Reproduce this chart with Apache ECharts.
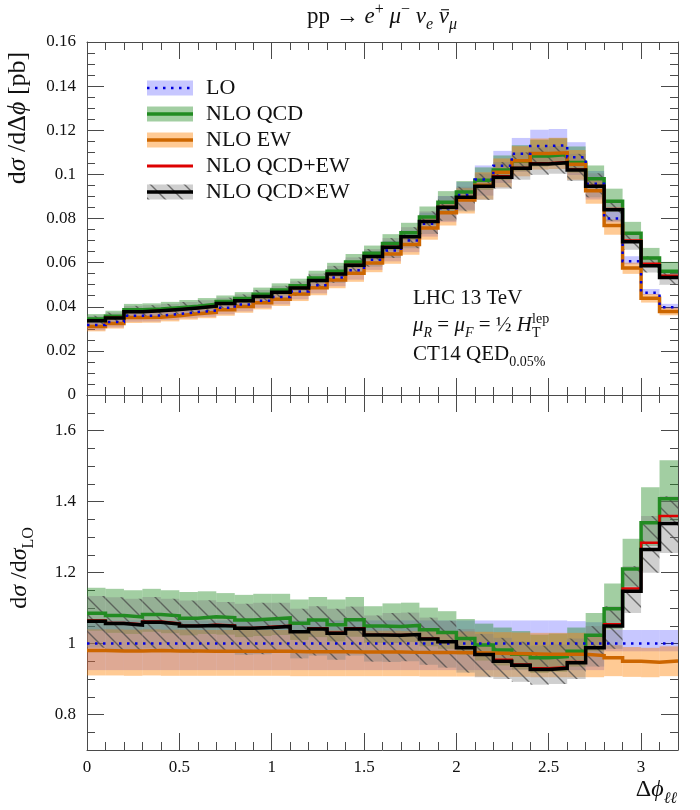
<!DOCTYPE html>
<html><head><meta charset="utf-8">
<script src="https://cdn.jsdelivr.net/npm/echarts@6/dist/echarts.min.js"></script>
<style>html,body{margin:0;padding:0;background:#fff}#c{width:700px;height:810px}</style>
</head><body><div id="c"></div>
<script>
// ---- data ----
const binEdges = [0,0.1,0.2,0.3,0.4,0.5,0.6,0.7,0.8,0.9,1.0,1.1,1.2,1.3,1.4,1.5,1.6,1.7,1.8,1.9,2.0,2.1,2.2,2.3,2.4,2.5,2.6,2.7,2.8,2.9,3.0,3.1,3.2];
// LO cross section dσ/dΔφ [pb]
const loXsec = [0.0317,0.0331,0.0359,0.0360,0.0367,0.0376,0.0383,0.0395,0.0410,0.0427,0.0444,0.0469,0.0498,0.0533,0.0565,0.0613,0.0655,0.0700,0.0776,0.0847,0.0907,0.0977,0.1039,0.1094,0.1129,0.1132,0.1078,0.0958,0.0800,0.0606,0.0463,0.0398];
// ratios to LO
const loRatio     = [1,1,1,1,1,1,1,1,1,1,1,1,1,1,1,1,1,1,1,1,1,1,1,1,1,1,1,1,1,1,1,1];
const loRatioLow  = [0.925,0.925,0.925,0.925,0.925,0.925,0.925,0.925,0.925,0.925,0.925,0.925,0.925,0.925,0.925,0.925,0.925,0.925,0.925,0.925,0.925,0.925,0.925,0.925,0.925,0.925,0.925,0.925,0.978,0.978,0.978,0.978];
const loRatioHigh = [1.065,1.065,1.065,1.065,1.065,1.065,1.065,1.065,1.065,1.065,1.065,1.065,1.065,1.065,1.065,1.065,1.065,1.065,1.065,1.065,1.065,1.065,1.065,1.065,1.065,1.065,1.063,1.060,1.038,1.038,1.038,1.038];
const qcdRatio     = [1.085,1.079,1.075,1.082,1.078,1.071,1.075,1.073,1.066,1.069,1.072,1.057,1.066,1.053,1.067,1.049,1.048,1.051,1.039,1.031,1.014,0.996,0.982,0.970,0.960,0.963,0.978,1.023,1.098,1.210,1.340,1.408];
const qcdRatioLow  = [1.036,1.030,1.027,1.033,1.029,1.023,1.027,1.025,1.018,1.021,1.024,1.010,1.018,1.006,1.019,1.002,1.001,1.004,0.992,0.985,0.969,0.952,0.938,0.927,0.917,0.920,0.935,0.978,1.040,1.160,1.275,1.345];
const qcdRatioHigh = [1.157,1.154,1.150,1.154,1.150,1.145,1.147,1.142,1.137,1.140,1.140,1.124,1.131,1.124,1.131,1.105,1.113,1.115,1.101,1.091,1.069,1.056,1.045,1.035,1.025,1.028,1.045,1.086,1.169,1.295,1.440,1.516];
const ewRatio     = [0.980,0.979,0.979,0.980,0.979,0.979,0.978,0.978,0.978,0.978,0.978,0.977,0.977,0.977,0.976,0.976,0.976,0.975,0.975,0.975,0.974,0.973,0.972,0.971,0.970,0.970,0.970,0.966,0.960,0.950,0.947,0.951];
const ewRatioLow  = [0.910,0.910,0.909,0.910,0.909,0.909,0.909,0.909,0.909,0.909,0.909,0.908,0.908,0.908,0.908,0.908,0.908,0.908,0.907,0.907,0.907,0.907,0.906,0.906,0.905,0.905,0.905,0.905,0.908,0.906,0.905,0.908];
const ewRatioHigh = [1.040,1.040,1.039,1.040,1.039,1.039,1.038,1.038,1.038,1.038,1.038,1.037,1.037,1.037,1.036,1.036,1.036,1.035,1.035,1.035,1.034,1.033,1.032,1.031,1.030,1.030,1.030,1.020,0.995,0.990,0.988,0.992];
const addRatio = [1.065,1.058,1.054,1.062,1.057,1.050,1.053,1.051,1.044,1.047,1.050,1.034,1.043,1.030,1.043,1.025,1.024,1.026,1.014,1.006,0.988,0.969,0.954,0.941,0.930,0.933,0.948,0.989,1.054,1.155,1.284,1.359];
const mulRatio     = [1.063,1.056,1.052,1.060,1.055,1.049,1.051,1.049,1.043,1.045,1.048,1.033,1.041,1.029,1.041,1.024,1.023,1.025,1.013,1.005,0.988,0.969,0.950,0.939,0.927,0.930,0.946,0.988,1.049,1.147,1.265,1.338];
const mulRatioLow  = [0.988,0.981,0.977,0.985,0.980,0.974,0.976,0.974,0.968,0.970,0.973,0.958,0.966,0.954,0.966,0.949,0.948,0.950,0.940,0.932,0.918,0.905,0.900,0.892,0.884,0.886,0.900,0.935,0.985,1.086,1.199,1.255];
const mulRatioHigh = [1.134,1.130,1.126,1.131,1.126,1.121,1.122,1.117,1.112,1.115,1.115,1.098,1.105,1.098,1.104,1.079,1.086,1.087,1.073,1.064,1.041,1.027,1.016,1.005,0.994,0.997,1.014,1.049,1.105,1.218,1.359,1.415];
// tick labels
const xMajorTicks = [0,0.5,1,1.5,2,2.5,3];
const yTopTicks = [0,0.02,0.04,0.06,0.08,0.1,0.12,0.14,0.16];
const yBotTicks = [0.8,1,1.2,1.4,1.6];
const legendNames = ['LO', 'NLO QCD', 'NLO EW', 'NLO QCD+EW', 'NLO QCD×EW'];

// ---- chart ----
const FONT = 'Liberation Serif';
const AXC = '#4a4a4a';
const abs = r => r.map((v,i) => v * loXsec[i]);

function hatchPattern() {
  const s = 17, c = document.createElement('canvas'); c.width = s; c.height = s;
  const g = c.getContext('2d');
  g.fillStyle = 'rgba(128,128,128,0.38)'; g.fillRect(0,0,s,s);
  g.strokeStyle = 'rgba(70,70,70,0.72)'; g.lineWidth = 1.4;
  g.beginPath();
  g.moveTo(-2,-2); g.lineTo(s+2,s+2);
  g.moveTo(-2,s-2); g.lineTo(2,s+2);
  g.moveTo(s-2,-2); g.lineTo(s+2,2);
  g.stroke();
  return {type:'pattern', image:c, repeat:'repeat'};
}
const HATCH = hatchPattern();
const C = {
  loBand:'rgba(0,0,255,0.22)', lo:'#0000dd',
  qcdBand:'rgba(34,139,34,0.42)', qcd:'#228b22',
  ewBand:'rgba(255,128,0,0.42)', ew:'#cc6600',
  add:'#dd0000', mul:'#000000'
};

const lbl = {fontFamily:FONT, fontSize:17, color:'#111'};
function xAx(grid, pos, major, labels) {
  const a = {type:'value', gridIndex:grid, position:pos, min:0, max:3.2,
    axisLine:{show:major, onZero:false, lineStyle:{color:AXC, width:1}},
    splitLine:{show:false}, minorTick:{show:false}};
  if (major) {
    a.interval = 0.5;
    a.axisTick = {show:true, inside:true, length:17, lineStyle:{color:AXC}, customValues:xMajorTicks};
    a.axisLabel = Object.assign({show:labels, margin:9, customValues:xMajorTicks}, lbl);
  } else {
    a.interval = 0.1;
    a.axisTick = {show:true, inside:true, length:8, lineStyle:{color:AXC}};
    a.axisLabel = {show:false};
  }
  return a;
}
function yAx(grid, pos, major, labels, top) {
  const a = {type:'value', gridIndex:grid, position:pos,
    min: top ? 0 : 0.7, max: top ? 0.16 : 1.7,
    axisLine:{show:major, onZero:false, lineStyle:{color:AXC, width:1}},
    splitLine:{show:false}, minorTick:{show:false}};
  const ticks = top ? yTopTicks : yBotTicks;
  if (major) {
    if (top) a.interval = 0.02;
    a.axisTick = {show:true, inside:true, length:17, lineStyle:{color:AXC}, customValues:ticks};
    a.axisLabel = Object.assign({show:labels, margin:11, customValues:ticks}, lbl);
  } else {
    a.interval = top ? 0.005 : 0.05;
    a.axisTick = {show:true, inside:true, length:8, lineStyle:{color:AXC}};
    a.axisLabel = {show:false};
  }
  return a;
}

function band(lo, hi, fill, xi, yi, z) {
  return {type:'custom', xAxisIndex:xi, yAxisIndex:yi, z, silent:true, clip:true,
    data: lo.map((l,i) => [binEdges[i], binEdges[i+1], l, hi[i]]),
    encode:{x:[0,1], y:[2,3]},
    renderItem(params, api) {
      const p0 = api.coord([api.value(0), api.value(3)]);
      const p1 = api.coord([api.value(1), api.value(2)]);
      return {type:'rect', shape:{x:p0[0], y:p0[1], width:p1[0]-p0[0], height:p1[1]-p0[1]}, style:{fill}};
    }};
}
function step(vals, color, width, xi, yi, z, dash) {
  const data = binEdges.map((e,i) => [e, vals[Math.min(i, vals.length-1)]]);
  return {type:'line', step:'end', xAxisIndex:xi, yAxisIndex:yi, z, silent:true, clip:true,
    data, symbol:'none',
    lineStyle:{color, width, type: dash || 'solid', cap:'butt', join:'miter'}};
}
function panel(xi, yi, v) {
  return [
    band(v.loL, v.loH, C.loBand, xi, yi, 1),
    band(v.qL, v.qH, C.qcdBand, xi, yi, 2),
    band(v.eL, v.eH, C.ewBand, xi, yi, 3),
    band(v.mL, v.mH, HATCH, xi, yi, 4),
    step(v.q, C.qcd, 3.5, xi, yi, 5),
    step(v.e, C.ew, 3.5, xi, yi, 6),
    step(v.lo, C.lo, 2.5, xi, yi, 7, [2.5,5.5]),
    step(v.a, C.add, 2.5, xi, yi, 8),
    step(v.m, C.mul, 3.5, xi, yi, 9)
  ];
}
const topVals = {lo:loXsec, loL:abs(loRatioLow), loH:abs(loRatioHigh),
  q:abs(qcdRatio), qL:abs(qcdRatioLow), qH:abs(qcdRatioHigh),
  e:abs(ewRatio), eL:abs(ewRatioLow), eH:abs(ewRatioHigh),
  a:abs(addRatio), m:abs(mulRatio), mL:abs(mulRatioLow), mH:abs(mulRatioHigh)};
const botVals = {lo:loRatio, loL:loRatioLow, loH:loRatioHigh,
  q:qcdRatio, qL:qcdRatioLow, qH:qcdRatioHigh,
  e:ewRatio, eL:ewRatioLow, eH:ewRatioHigh,
  a:addRatio, m:mulRatio, mL:mulRatioLow, mH:mulRatioHigh};

// ---- text with sub/superscripts laid out token by token ----
const mctx = document.createElement('canvas').getContext('2d');
function fnt(sz, it) { return (it ? 'italic ' : '') + sz + 'px "' + FONT + '"'; }
// flags: i italic, b subscript, p superscript, m macron, z zero advance
function mathText(x, y, size, toks, align, rotation) {
  const items = []; let cx = 0;
  toks.forEach(([t, f]) => {
    f = f || '';
    const it = f.includes('i'), small = f.includes('b') || f.includes('p');
    const s = small ? Math.round(size * 0.68) : size;
    mctx.font = fnt(s, it);
    const w = mctx.measureText(t).width;
    const dy = f.includes('b') ? size * 0.26 : (f.includes('p') ? -size * 0.40 : 0);
    items.push({t, it, s, x:cx, dy, w, m:f.includes('m')});
    if (!f.includes('z')) cx += w;
  });
  const W = cx;
  const off = align === 'center' ? -W/2 : (align === 'right' ? -W : 0);
  const children = [];
  items.forEach(o => {
    children.push({type:'text', silent:true, x:o.x + off, y:o.dy - o.s*0.30,
      style:{text:o.t, font:fnt(o.s, o.it), fill:'#111', align:'left', verticalAlign:'middle'}});
    if (o.m) children.push({type:'line', silent:true,
      shape:{x1:o.x+off+o.w*0.22, y1:-o.s*0.62, x2:o.x+off+o.w*1.0, y2:-o.s*0.62},
      style:{stroke:'#111', lineWidth:1.1}});
  });
  return {type:'group', x, y, rotation: rotation || 0, children, silent:true};
}

const legRows = [88, 114, 140, 166, 192];
const LX = 147, LW = 46, LH = 15;
const legendEls = [];
function legBand(y, fill) { legendEls.push({type:'rect', silent:true, shape:{x:LX, y:y-LH/2, width:LW, height:LH}, style:{fill}}); }
function legLine(y, stroke, w, dash) { legendEls.push({type:'line', silent:true, shape:{x1:LX, y1:y, x2:LX+LW, y2:y}, style:{stroke, lineWidth:w, lineDash:dash || null}}); }
legBand(legRows[0], C.loBand); legLine(legRows[0], C.lo, 2.5, [2.5,5.5]);
legBand(legRows[1], C.qcdBand); legLine(legRows[1], C.qcd, 3.5);
legBand(legRows[2], C.ewBand); legLine(legRows[2], C.ew, 3.5);
legLine(legRows[3], C.add, 3);
legBand(legRows[4], HATCH); legLine(legRows[4], C.mul, 3.5);
legendNames.forEach((n,i) => legendEls.push(mathText(206, legRows[i] + 7, 22, [[n,'']], 'left')));

const graphics = legendEls.concat([
  mathText(382, 24, 23, [['pp',''],[' → ',''],['e','i'],['+','p'],[' ',''],['μ','i'],['−','p'],[' ',''],['ν','i'],['e','ib'],[' ',''],['ν','im'],['μ','ib']], 'center'),
  mathText(26, 118, 26, [['d',''],['σ','i'],[' /d',''],['Δ',''],['ϕ','i'],[' [pb]','']], 'center', Math.PI/2),
  mathText(27, 568, 24, [['d',''],['σ','i'],[' /d',''],['σ','i'],['LO','b']], 'center', Math.PI/2),
  mathText(677, 797, 24, [['Δ',''],['ϕ','i'],['ℓℓ','ib']], 'right'),
  mathText(413, 305, 21, [['LHC 13 TeV','']], 'left'),
  mathText(413, 332, 21, [['μ','i'],['R','ib'],[' = ',''],['μ','i'],['F','ib'],[' = ',''],['½',''],[' ',''],['H','i'],['T','bz'],['lep','p']], 'left'),
  mathText(413, 361, 21, [['CT14 QED',''],['0.05%','b']], 'left')
]);

const chart = echarts.init(document.getElementById('c'), null, {renderer:'canvas'});
chart.setOption({
  animation:false,
  backgroundColor:'#fff',
  grid:[
    {left:87, right:22, top:42, height:353, containLabel:false},
    {left:87, right:22, top:395, height:355, containLabel:false}
  ],
  xAxis:[
    xAx(0,'bottom',true,false), xAx(0,'bottom',false,false), xAx(0,'top',true,false), xAx(0,'top',false,false),
    xAx(1,'bottom',true,true), xAx(1,'bottom',false,false), xAx(1,'top',true,false), xAx(1,'top',false,false)
  ],
  yAxis:[
    yAx(0,'left',true,true,true), yAx(0,'left',false,false,true), yAx(0,'right',true,false,true), yAx(0,'right',false,false,true),
    yAx(1,'left',true,true,false), yAx(1,'left',false,false,false), yAx(1,'right',true,false,false), yAx(1,'right',false,false,false)
  ],
  series: panel(0,0,topVals).concat(panel(4,4,botVals)),
  graphic: graphics
});
</script>
</body></html>
